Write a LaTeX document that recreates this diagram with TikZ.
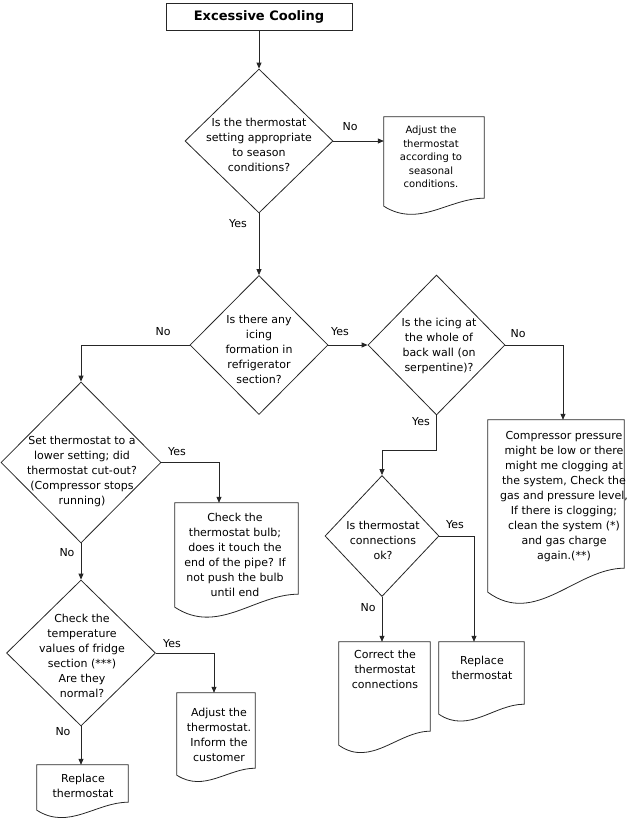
\documentclass[tikz,border=0pt]{standalone}
\usepackage{fontspec}
\setmainfont{DejaVu Sans}
\usetikzlibrary{shapes.geometric,arrows.meta,calc}
\tikzset{
  ln/.style={draw=black!85, line width=0.8pt},
  arr/.style={ln, -{Triangle[length=6pt,width=5pt]}},
  dia/.style={diamond, ln, inner sep=0pt},
  docbox/.style={rectangle, draw=none, inner sep=0pt},
  titlebox/.style={rectangle, draw=black!85, line width=1pt, inner sep=0pt,
    minimum width=186pt, minimum height=27pt, font=\bfseries\fontsize{13}{15}\selectfont},
  txt/.style={font=\fontsize{11}{15}\selectfont, align=center, inner sep=0pt},
  smalltxt/.style={font=\fontsize{10}{13.5}\selectfont, align=center, inner sep=0pt},
  lbl/.style={font=\fontsize{11}{13}\selectfont, inner sep=0pt},
}
\newcommand\docoutline[2]{%
  \draw[ln] let \p1=(#1.south west), \p2=(#1.north east) in
    (\x1,\y2) -- (\x2,\y2) -- (\x2,{\y1+#2pt})
    .. controls ({\x1+0.65*(\x2-\x1)},{\y1+#2pt}) and ({\x1+0.35*(\x2-\x1)},{\y1-0.19*(\x2-\x1)-0.38*#2pt})
    .. (\x1,\y1) -- cycle;}
\begin{document}
\begin{tikzpicture}[x=1pt,y=-1pt]
\useasboundingbox (0,0) rectangle (629,820);

% title
\node[titlebox] (title) at (259,16.5) {Excessive Cooling};

% diamonds
\node[dia, minimum width=148pt, minimum height=144pt] (d1) at (259,141) {};
\node[dia, minimum width=138pt, minimum height=139pt] (d2) at (259,345) {};
\node[dia, minimum width=137pt, minimum height=140pt] (d3) at (436.5,345) {};
\node[dia, minimum width=114pt, minimum height=121pt] (d4) at (382,536) {};
\node[dia, minimum width=160pt, minimum height=161pt] (d5) at (81,462.5) {};
\node[dia, minimum width=149pt, minimum height=146pt] (d6) at (81,653) {};

% document boxes
\node[docbox, minimum width=100pt, minimum height=89pt] (b1) at (434,161.5) {};
\node[docbox, minimum width=136pt, minimum height=172pt] (bbig) at (556,506) {};
\node[docbox, minimum width=123pt, minimum height=104pt] (bbulb) at (236.5,555) {};
\node[docbox, minimum width=91pt, minimum height=103pt] (bcorr) at (384.5,693.5) {};
\node[docbox, minimum width=85pt, minimum height=72pt] (brepl) at (481.5,678) {};
\node[docbox, minimum width=78pt, minimum height=82pt] (badj) at (216,734) {};
\node[docbox, minimum width=91pt, minimum height=45pt] (brep2) at (82.5,787.5) {};

\docoutline{b1}{8}
\docoutline{bbig}{24}
\docoutline{bbulb}{13}
\docoutline{bcorr}{14}
\docoutline{brepl}{10}
\docoutline{badj}{7}
\docoutline{brep2}{8}

% texts
\node[txt] (t1) at (259,145) {Is the thermostat\\setting appropriate\\to season\\conditions?};
\node[txt] (t2) at (259,349) {Is there any\\icing\\formation in\\refrigerator\\section?};
\node[txt] (t3) at (439,346) {Is the icing at\\the whole of\\back wall (on\\serpentine)?};
\node[txt] (t4) at (383,540) {Is thermostat\\connections\\ok?};
\node[txt] (t5) at (82,471) {Set thermostat to a\\lower setting; did\\thermostat cut-out?\\(Compressor stops\\running)};
\node[txt] (t6) at (82,656) {Check the\\temperature\\values of fridge\\section (***)\\Are they\\normal?};

\node[smalltxt] (tb1) at (431,157) {Adjust the\\thermostat\\according to\\seasonal\\conditions.};
\node[txt] (tbig) at (564,497) {Compressor pressure\\might be low or there\\might me clogging at\\the system, Check the\\gas and pressure level,\\If there is clogging;\\clean the system (*)\\and gas charge\\again.(**)};
\node[txt] (tbulb) at (235,555) {Check the\\thermostat bulb;\\does it touch the\\end of the pipe? If\\not push the bulb\\until end};
\node[txt] (tcorr) at (385,669) {Correct the\\thermostat\\connections};
\node[txt] (trepl) at (482,668) {Replace\\thermostat};
\node[txt] (tadj) at (219,735) {Adjust the\\thermostat.\\Inform the\\customer};
\node[txt] (trep2) at (83,786) {Replace\\thermostat};

% connectors
\draw[arr] (title.south) -- (d1.north);
\draw[arr] (d1.east) -- (d1.east -| b1.west);
\draw[arr] (d1.south) -- (d2.north);
\draw[arr] (d2.east) -- (d3.west);
\draw[arr] (d3.east) -| ([xshift=7pt]bbig.north);
\coordinate (k3) at (382,450);
\draw[arr] (d3.south) |- (k3) -- (d4.north);
\draw[arr] (d4.east) -| ([xshift=-7.5pt]brepl.north);
\draw[arr] (d4.south) -- (d4.south |- bcorr.north);
\draw[arr] (d2.west) -| (d5.north);
\draw[arr] (d5.east) -| ([xshift=-17.5pt]bbulb.north);
\draw[arr] (d5.south) -- (d6.north);
\draw[arr] (d6.east) -| ([xshift=-2pt]badj.north);
\draw[arr] (d6.south) -- (d6.south |- brep2.north);

% labels
\node[lbl] (l1) at (350,127) {No};
\node[lbl] (l2) at (238,224) {Yes};
\node[lbl] (l3) at (340,332) {Yes};
\node[lbl] (l4) at (518,334) {No};
\node[lbl] (l5) at (163,332) {No};
\node[lbl] (l6) at (421,422) {Yes};
\node[lbl] (l7) at (455,525) {Yes};
\node[lbl] (l8) at (368,608) {No};
\node[lbl] (l9) at (177,452) {Yes};
\node[lbl] (l10) at (67,553) {No};
\node[lbl] (l11) at (172,644) {Yes};
\node[lbl] (l12) at (63,732) {No};
\end{tikzpicture}
\end{document}
